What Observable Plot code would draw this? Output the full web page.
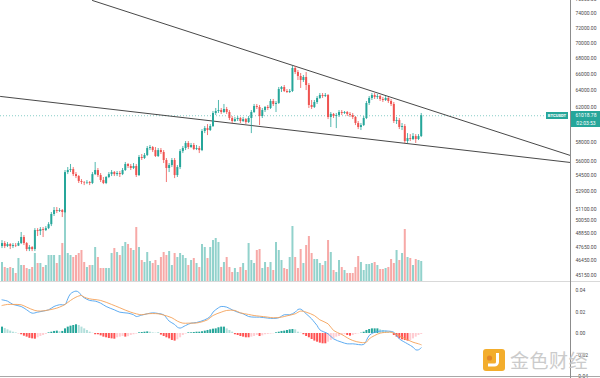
<!DOCTYPE html>
<html>
<head>
<meta charset="utf-8">
<script src="https://cdn.jsdelivr.net/npm/d3@7"></script>
<script src="https://cdn.jsdelivr.net/npm/@observablehq/plot@0.6"></script>
<style>
  html, body { margin: 0; padding: 0; background: #fff; }
  #chart { position: relative; width: 600px; height: 378px; overflow: hidden; background: #fff; }
  #chart > div { position: absolute; }
  .box { color: #fff; background: #26a69a; font-family: Roboto, "Liberation Sans", sans-serif; text-align: center; }
</style>
</head>
<body>
<div id="chart">
  <div id="vol" style="left:0;top:0"></div>
  <div id="price" style="left:0;top:0"></div>
  <div id="macd" style="left:0;top:281px"></div>
  <div style="left:0;top:281px;width:600px;height:1px;background:#d9d9d9"></div>
  <div style="left:0;top:376px;width:600px;height:1px;background:#a8a8a8"></div>
  <div style="left:570px;top:0;width:1px;height:378px;background:#8c8c8c"></div>
  <div id="symbolBox" class="box" style="width:22px;height:7px;line-height:7px;font-size:4.2px;font-weight:bold"></div>
  <div id="priceBox" class="box" style="width:30px;height:16px;font-size:5px;line-height:8px"></div>
  <div id="wm" style="left:483px;top:346px;display:flex;align-items:center;opacity:0.9">
    <svg width="22" height="22" viewBox="0 0 22 22">
      <rect width="22" height="22" rx="3" fill="#f2a516"/>
      <circle cx="6.5" cy="9" r="2.6" fill="#e07a10"/>
      <path d="M12 4 h4 v9 a4.5 4.5 0 0 1 -4.5 4.5 h-6.5 v-3 h6.5 a1.5 1.5 0 0 0 1.5 -1.5 v-9z" fill="#fff"/>
    </svg>
    <span style="margin-left:5px;font-family:'Noto Sans CJK SC';font-size:19px;color:#c6c6c6;letter-spacing:0.5px">金色财经</span>
  </div>
</div>
<script>
// ---------- data (BTCUSDT, 4h candles) ----------
const symbol = "BTCUSDT";
const lastPriceLabel = "61018.78";
const countdown = "02:03:53";
const firstOpen = 47680;
const closes = [47950,47680,47860,47680,47770,47720,47950,48500,47950,47410,47590,47410,49140,49050,49230,49140,49320,49690,50650,51030,
50940,51030,50840,54820,55030,55130,54610,54410,53900,53800,53750,53800,53700,54610,55030,54510,54000,53700,54310,54610,
54820,54610,54720,54610,55030,55660,55450,55240,55450,54510,56400,56290,56610,57360,57470,57140,56500,57140,56930,56080,
55240,55550,56080,54510,55340,57030,57360,57910,57470,57690,57250,57360,57140,59230,59560,59340,59790,61280,61510,61620,
61390,61740,61390,60700,60360,60580,60700,60360,60580,60240,60700,61390,62090,61980,60930,61620,61980,61860,62680,62330,
62450,64110,64360,63870,63750,63870,66700,66200,65710,65210,65580,64600,62210,61980,62560,63040,63390,63270,63390,60820,
61170,60930,61050,61390,61280,61390,61170,61050,60820,60130,59680,59900,60700,62450,63040,63390,63150,63270,62920,62800,
63040,62680,62330,60360,60470,59680,59790,58120,58450,58340,58670,58340,58670,61018.78];
const highs = [48220,48130,48040,47950,47950,47950,48130,48960,48680,48040,47770,47680,49320,49320,49420,49420,49510,49880,50840,51320,
51320,51220,51130,55030,55340,55660,55340,54820,54510,54100,53900,54000,53900,54820,55870,55240,54720,54310,54410,54820,
55030,54930,54930,54930,55240,55870,55760,55660,55760,55660,56610,56720,56820,57580,57690,57580,57470,57360,57360,57140,
56290,55760,56290,56290,55550,57250,57580,58120,58120,57910,57910,57690,57580,59450,59790,60010,60010,61510,61860,62800,
61860,62330,61980,61620,60930,60820,60930,60820,60820,60700,60930,61620,62330,62330,62210,61860,62090,62210,62920,62920,
62680,64360,64480,64600,64110,64110,66960,66960,66450,66080,65830,66200,64840,62800,62800,63270,63630,63630,63630,63510,
61390,61280,61280,61620,61620,61510,61510,61390,61280,60930,60360,60130,60930,62680,63270,63630,63630,63510,63390,63150,
63270,63150,62920,62560,60820,60700,60130,60010,59000,58890,59000,58890,58890,61280];
const lows = [47500,47500,47590,47410,47500,47590,47680,47860,47770,47230,47230,47230,47230,48590,48680,48500,49050,49230,49510,50460,
50740,50840,50360,50740,54610,54820,54410,54200,53700,53590,53490,53590,53490,53590,54510,54310,53800,53590,53590,54200,
54410,54410,54410,54310,54510,54930,55240,55030,55130,54310,54410,56080,56190,56500,57140,56930,56400,56400,56720,55760,
53800,54820,55340,54200,54310,55130,56820,57140,57250,57360,57140,57140,56820,57030,59000,58780,59230,59680,61050,61280,
61170,61280,61170,60470,60130,60240,60360,60130,60240,60020,60130,59000,61280,61740,59900,60700,61390,61620,61740,62090,
61390,62330,63750,63750,63630,63630,63750,65950,65210,64240,64970,63990,61860,61740,61860,62330,62920,63040,63150,60580,
59680,60700,59560,60820,61050,61170,60930,60820,60580,59900,59450,59340,59790,60580,62210,62800,62920,62920,62680,62560,
62680,62450,62090,60130,60020,59450,59340,57910,57910,58120,58230,57910,58230,58560];
const volumes = [4750,3500,3250,3500,3250,2000,5750,4000,4000,3250,3000,3500,7000,4500,4500,3500,4000,6500,6500,6500,
4500,6500,9500,17750,7000,6500,6000,6500,7000,7750,4750,3500,4000,4000,8500,6000,3250,3250,3250,3250,
7000,8250,7250,6500,8750,9750,9250,8250,7750,13500,8500,5250,4750,7250,5000,4500,5250,4000,6000,7250,
6500,7500,4000,7000,6000,7000,6500,5750,4000,5250,5750,4500,3500,9250,8500,5750,8500,10250,10750,9750,
3500,4750,6000,3500,2250,3250,2250,3500,4500,2750,9500,5250,4500,7750,8000,3250,4750,3500,4750,2750,
9750,7750,5250,3250,3000,6000,13750,6000,3250,8000,4500,9000,11250,7000,5500,5500,4500,4000,5000,10250,
7250,2750,2250,5250,3500,2750,2000,2000,2000,3500,6250,4750,2750,4250,4250,4500,4750,4000,3000,3000,
3250,3500,5500,4500,7750,5250,7000,13000,6000,5750,4000,5500,5250,5000];
const histValues = [0.0059,0.0046,0.0034,0.0022,0.0012,0.0006,-0.0002,-0.0012,-0.0025,-0.0034,-0.0045,-0.0050,-0.0053,-0.0040,-0.0028,-0.0019,-0.0009,0.0006,0.0012,0.0019,
0.0022,0.0016,0.0019,0.0043,0.0059,0.0068,0.0074,0.0081,0.0074,0.0059,0.0043,0.0028,0.0012,0.0003,-0.0012,-0.0012,-0.0022,-0.0034,-0.0040,-0.0047,
-0.0050,-0.0053,-0.0040,-0.0034,-0.0028,-0.0034,-0.0030,-0.0019,-0.0012,-0.0006,0.0006,0.0009,0.0012,0.0015,0.0012,0.0006,0.0003,0.0003,-0.0015,-0.0028,
-0.0040,-0.0050,-0.0065,-0.0071,-0.0059,-0.0040,-0.0019,-0.0006,0.0006,0.0006,0.0009,0.0012,0.0012,0.0016,0.0022,0.0028,0.0034,0.0040,0.0043,0.0053,
0.0059,0.0059,0.0043,0.0028,0.0012,-0.0012,-0.0019,-0.0028,-0.0034,-0.0040,-0.0040,-0.0034,-0.0028,-0.0019,-0.0028,-0.0022,-0.0012,-0.0009,-0.0006,-0.0003,
0.0006,0.0012,0.0019,0.0022,0.0028,0.0034,0.0037,0.0034,0.0012,0.0003,-0.0012,-0.0028,-0.0040,-0.0056,-0.0071,-0.0081,-0.0090,-0.0096,-0.0096,-0.0081,
-0.0065,-0.0050,-0.0034,-0.0028,-0.0019,-0.0012,-0.0019,-0.0025,-0.0019,-0.0009,-0.0003,0.0003,0.0012,0.0028,0.0037,0.0043,0.0043,0.0043,0.0034,0.0028,
0.0022,0.0012,0.0006,-0.0019,-0.0034,-0.0050,-0.0059,-0.0065,-0.0071,-0.0065,-0.0050,-0.0034,-0.0019,-0.0009];
const macdIdx = [0,2,4,7,9,11,13,15,17,19,21,23,24,25,27,28,29,30,32,34,36,38,41,43,46,48,49,51,53,55,57,59,60,61,63,64,65,67,69,71,74,76,77,79,80,82,84,86,88,90,92,94,97,99,101,103,105,107,108,109,111,113,114,115,116,119,121,124,126,128,132,133,134,136,138,141,143,144,145,148,150,151,152,153];
const macdVals = [0.0313,0.0301,0.0270,0.0251,0.0220,0.0189,0.0198,0.0208,0.0220,0.0251,0.0267,0.0270,0.0322,0.0369,0.0394,0.0384,0.0353,0.0332,0.0307,0.0301,0.0282,0.0251,0.0220,0.0198,0.0189,0.0174,0.0158,0.0171,0.0183,0.0192,0.0186,0.0174,0.0146,0.0115,0.0084,0.0059,0.0050,0.0074,0.0096,0.0102,0.0127,0.0158,0.0198,0.0239,0.0251,0.0245,0.0220,0.0198,0.0183,0.0158,0.0152,0.0152,0.0143,0.0140,0.0146,0.0174,0.0174,0.0198,0.0223,0.0226,0.0183,0.0136,0.0105,0.0074,0.0034,-0.0003,-0.0050,-0.0081,-0.0096,-0.0096,-0.0102,-0.0065,-0.0019,0.0012,0.0022,0.0022,0.0012,-0.0019,-0.0050,-0.0096,-0.0127,-0.0152,-0.0152,-0.0133];
const signalIdx = [0,2,4,7,9,12,14,16,19,21,23,25,27,29,30,32,36,40,43,47,51,53,57,59,62,64,66,68,70,72,75,77,80,82,85,87,90,92,94,97,99,102,104,107,109,111,114,116,119,121,124,126,128,131,133,134,136,138,141,142,144,146,148,150,152,153];
const signalVals = [0.0260,0.0270,0.0270,0.0267,0.0245,0.0214,0.0208,0.0214,0.0229,0.0245,0.0270,0.0307,0.0338,0.0353,0.0338,0.0322,0.0307,0.0270,0.0239,0.0198,0.0174,0.0183,0.0183,0.0171,0.0146,0.0115,0.0096,0.0096,0.0096,0.0102,0.0127,0.0167,0.0198,0.0214,0.0214,0.0192,0.0177,0.0167,0.0161,0.0152,0.0146,0.0152,0.0164,0.0183,0.0208,0.0198,0.0167,0.0127,0.0090,0.0028,-0.0009,-0.0040,-0.0065,-0.0084,-0.0081,-0.0050,-0.0019,0.0003,0.0012,0.0012,-0.0009,-0.0034,-0.0059,-0.0081,-0.0096,-0.0105];
const trendUpper = [[33.03, 75830], [207.48, 56610]];
const trendLower = [[-0.547, 63280], [207.48, 55870]];
const priceTicks = [76000,74000,72000,70000,68000,66000,64000,62000,60000,58000,56000,54500,52900,51100,50050,48850,47650,46450,45150];
const macdTicks = [0.04, 0.02, 0, -0.02, -0.04];

// ---------- scales config ----------
const xDomain = [-0.547, 207.48];
const priceDomain = [44640, 75830];
const volumeDomain = [0, 70250];
const macdDomain = [-0.040, 0.0474];
const UP = "#26a69a", DOWN = "#ef5350";
const fmt2 = d3.format(".2f");

const candles = closes.map((c, i) => ({
  i, close: c, open: i ? closes[i - 1] : firstOpen, high: highs[i], low: lows[i], volume: volumes[i]
}));
candles.forEach(d => d.color = d.close >= d.open ? UP : DOWN);
const lastClose = closes[closes.length - 1];

const hist = histValues.map((v, i) => {
  const prev = i ? histValues[i - 1] : v;
  const color = v >= 0 ? (v >= prev ? "#26a69a" : "#b2dfdb") : (v <= prev ? "#ff5252" : "#ffcdd2");
  return {i, v, color};
});
const macdPts = macdIdx.map((i, k) => ({i, v: macdVals[k]}));
const sigPts = signalIdx.map((i, k) => ({i, v: signalVals[k]}));

const common = {width: 600, marginLeft: 0, marginRight: 30};
const textStyle = {background: "transparent", fontSize: "5px", fontFamily: "Roboto, 'Liberation Sans', sans-serif", color: "#4a4a4a", overflow: "visible"};
const axisLabels = (ticks) => Plot.text(ticks, {
  x: xDomain[1], y: d => d, text: d => fmt2(d), textAnchor: "start", dx: 5,
  fill: "#4a4a4a", fontSize: 5, clip: false
});

const volPlot = Plot.plot({
  ...common, height: 282, marginTop: 0, marginBottom: 1,
  style: {background: "transparent"},
  x: {domain: xDomain, axis: null},
  y: {domain: volumeDomain, axis: null},
  marks: [
    Plot.ruleX(candles, {x: "i", y1: 0, y2: "volume", stroke: "color", strokeOpacity: 0.5, strokeWidth: 2})
  ]
});
document.getElementById("vol").append(volPlot);

const pricePlot = Plot.plot({
  ...common, height: 282, marginTop: 0, marginBottom: 1,
  style: textStyle,
  x: {domain: xDomain, axis: null},
  y: {type: "log", domain: priceDomain, axis: null},
  marks: [
    Plot.ruleY([lastClose], {stroke: UP, strokeOpacity: 0.7, strokeWidth: 0.8, strokeDasharray: "1,2"}),
    Plot.line(trendUpper, {x: d => d[0], y: d => d[1], stroke: "#333", strokeWidth: 0.9}),
    Plot.line(trendLower, {x: d => d[0], y: d => d[1], stroke: "#333", strokeWidth: 0.9}),
    Plot.ruleX(candles, {x: "i", y1: "low", y2: "high", stroke: "color", strokeWidth: 0.8}),
    Plot.ruleX(candles, {x: "i", y1: "open", y2: "close", stroke: "color", strokeWidth: 2}),
    axisLabels(priceTicks)
  ]
});
document.getElementById("price").append(pricePlot);

const macdPlot = Plot.plot({
  ...common, height: 97, marginTop: 1, marginBottom: 2,
  style: textStyle,
  x: {domain: xDomain, axis: null},
  y: {domain: macdDomain, axis: null},
  marks: [
    Plot.ruleX(hist, {x: "i", y1: 0, y2: "v", stroke: "color", strokeWidth: 2}),
    Plot.line(macdPts, {x: "i", y: "v", stroke: "#4da3ef", strokeWidth: 0.9, curve: "catmull-rom"}),
    Plot.line(sigPts, {x: "i", y: "v", stroke: "#f4a259", strokeWidth: 0.9, curve: "catmull-rom"}),
    axisLabels(macdTicks)
  ]
});
document.getElementById("macd").append(macdPlot);

// price label boxes placed from the y scale
const yLast = pricePlot.scale("y").apply(lastClose);
const sb = document.getElementById("symbolBox");
sb.textContent = symbol;
sb.style.left = "546px";
sb.style.top = (yLast - 3.2) + "px";
const pb = document.getElementById("priceBox");
pb.innerHTML = lastPriceLabel + "<br>" + countdown;
pb.style.left = "571px";
pb.style.top = (yLast - 4) + "px";
</script>
</body>
</html>
